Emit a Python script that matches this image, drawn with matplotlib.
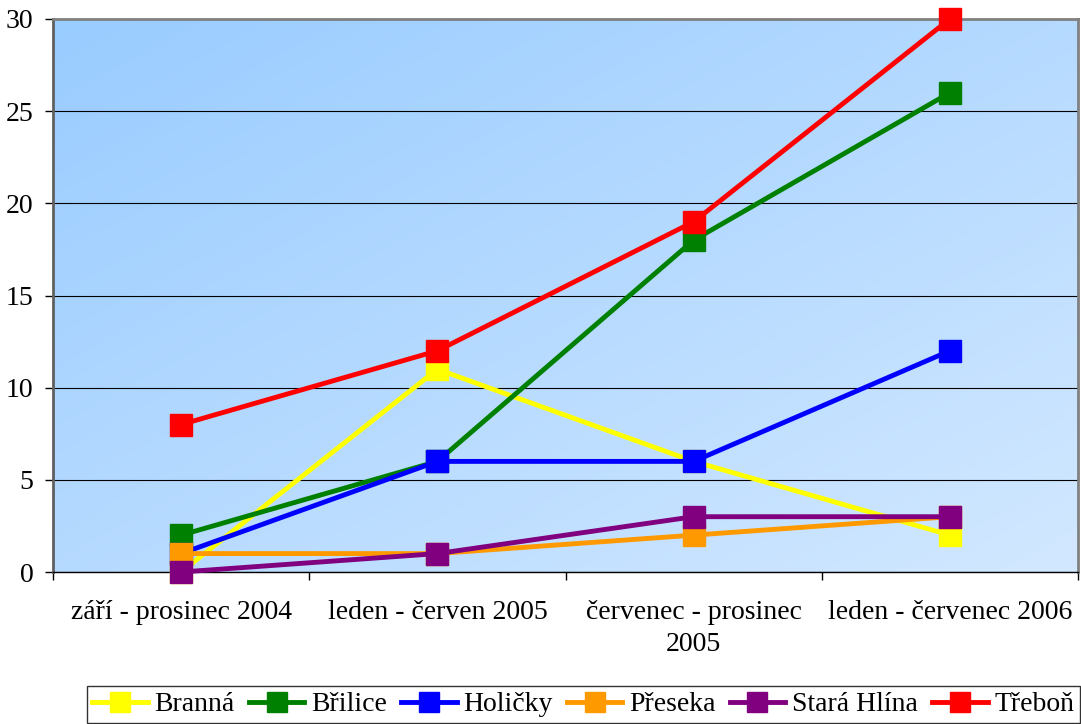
import numpy as np
import matplotlib
matplotlib.use("Agg")
import matplotlib.pyplot as plt
from matplotlib.colors import LinearSegmentedColormap

plt.rcParams["font.family"] = ["Liberation Serif", "DejaVu Serif"]

# --- Data ---
periods = ["září - prosinec 2004", "leden - červen 2005",
           "červenec - prosinec\n2005", "leden - červenec 2006"]
branna = [0, 11, 6, 2]
brilice = [2, 6, 18, 26]
holicky = [1, 6, 6, 12]
preseka = [1, 1, 2, 3]
stara_hlina = [0, 1, 3, 3]
trebon = [8, 12, 19, 30]

series = [
    ("Branná", branna, "#FFFF00"),
    ("Břilice", brilice, "#008000"),
    ("Holičky", holicky, "#0000FF"),
    ("Přeseka", preseka, "#FF9900"),
    ("Stará Hlína", stara_hlina, "#800080"),
    ("Třeboň", trebon, "#FF0000"),
]

# --- Figure ---
fig = plt.figure(figsize=(10.81, 7.24), dpi=100)
ax = fig.add_axes([53 / 1081, 1 - 572 / 724, 1025 / 1081, 553 / 724])

# gradient background
yy, xx = np.mgrid[0:1:200j, 0:1:200j]
grad = (xx + (1 - yy)) / 2
cmap = LinearSegmentedColormap.from_list("bg", ["#99CCFF", "#D2E8FF"])
ax.imshow(grad, cmap=cmap, extent=[0, 1, 0, 1], transform=ax.transAxes,
          aspect="auto", zorder=0, origin="lower")

x = np.arange(len(periods))
for name, vals, col in series:
    ax.plot(x, vals, color=col, lw=3.5, marker="s", ms=16, label=name,
            zorder=3, clip_on=False)

ax.set_xlim(-0.5, 3.5)
ax.set_ylim(0, 30)
ax.set_yticks(range(0, 31, 5))
ax.yaxis.grid(True, color="black", lw=0.8)
ax.set_axisbelow(True)

ax.set_xticks(np.arange(-0.5, 4, 1))
ax.set_xticklabels([])
ax.set_xticks(x, minor=True)
ax.set_xticklabels(periods, minor=True, fontsize=20, linespacing=1.4)
ax.tick_params(axis="x", which="minor", length=0, pad=20)
ax.tick_params(axis="x", which="major", length=6, width=1)
ax.tick_params(axis="y", length=6, width=1, labelsize=20, pad=8)

for s in ["top", "right"]:
    ax.spines[s].set_color("#808080")
    ax.spines[s].set_linewidth(2)
ax.spines["left"].set_color("#606060")
ax.spines["left"].set_linewidth(2)
ax.spines["bottom"].set_color("black")
ax.spines["bottom"].set_linewidth(1)

leg = fig.legend(loc="lower right", bbox_to_anchor=(1080 / 1081, 1 / 724),
                 ncol=6, fontsize=20, frameon=True, fancybox=False,
                 edgecolor="black", handlelength=2.0, handletextpad=0.25,
                 columnspacing=0.5, borderpad=0.2, borderaxespad=0.0,
                 markerscale=0.9)
leg.get_frame().set_linewidth(1)

fig.savefig("out.png", dpi=100)
